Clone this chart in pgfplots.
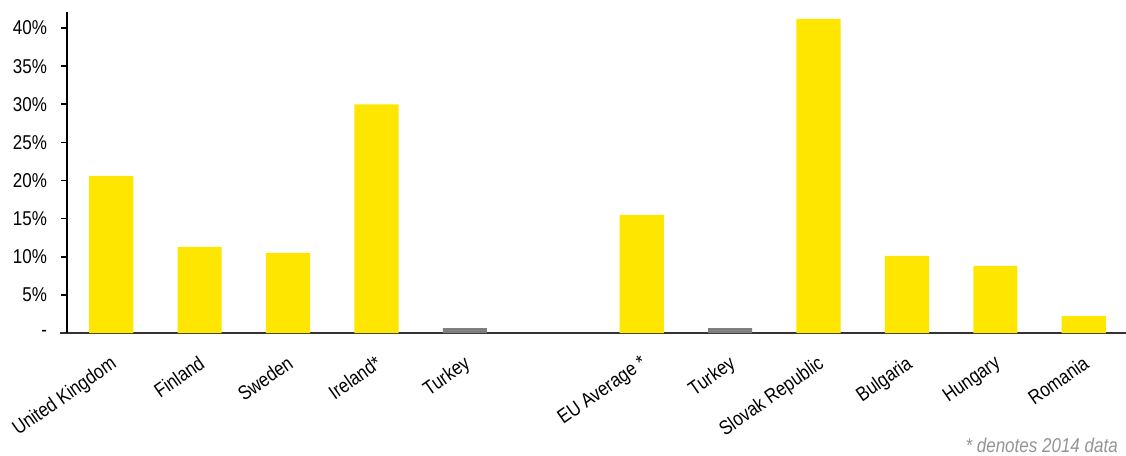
\documentclass[border=0pt]{standalone}
\usepackage{fontspec}
\setmainfont{Liberation Sans}[FakeStretch=0.85]
\usepackage{pgfplots}
\pgfplotsset{compat=1.18}
\definecolor{barYellow}{HTML}{FFE600}
\definecolor{barGray}{HTML}{7F7F7F}

% share of the total, per country (%)
\pgfplotstableread{
x  val
0  20.6
1  11.3
2  10.5
3  30.0
6  15.5
8  41.2
9  10.1
10 8.8
11 2.2
}\yellowbars
\pgfplotstableread{
x  val
4  0.65
7  0.65
}\graybars

\begin{document}
\begin{tikzpicture}
\useasboundingbox (0,0) rectangle (844.5pt,341.25pt);
\begin{axis}[
  at={(50.25pt,91.5pt)}, anchor=south west,
  scale only axis, width=795.75pt, height=240.75pt,
  xmin=-0.5, xmax=11.5, ymin=0, ymax=42.1,
  axis lines=left,
  axis line style={-},
  x axis line style={draw=black!80, line width=1.2pt, shorten <=-5.25pt},
  y axis line style={draw=black, line width=1.5pt},
  ybar, bar width=0.5, bar shift=0pt,
  xtick={0,1,2,3,4,6,7,8,9,10,11},
  xticklabels={United Kingdom,Finland,Sweden,Ireland*,Turkey,EU Average *,Turkey,Slovak Republic,Bulgaria,Hungary,Romania},
  xtick style={draw=none},
  xticklabel style={rotate=35, anchor=north east, font=\fontsize{15}{17}\selectfont, inner sep=0pt, yshift=-8.6pt, xshift=-7.8pt},
  ytick={0,5,10,15,20,25,30,35,40},
  yticklabels={-,5\%,10\%,15\%,20\%,25\%,30\%,35\%,40\%},
  yticklabel style={font=\fontsize{15}{17}\selectfont, xshift=-7pt},
  tick align=outside, major tick length=4.5pt,
  ytick style={draw=black, line width=1.2pt},
  tick label style={text=black},
]
\addplot[fill=barYellow, draw=none] table[x=x, y=val] {\yellowbars};
\addplot[fill=barGray, draw=none] table[x=x, y=val] {\graybars};
\end{axis}
\node[anchor=base east, font=\itshape\fontsize{15}{17}\selectfont, text=black!42, inner sep=0pt] at (838.5pt,2.25pt) {* denotes 2014 data};
\end{tikzpicture}
\end{document}
